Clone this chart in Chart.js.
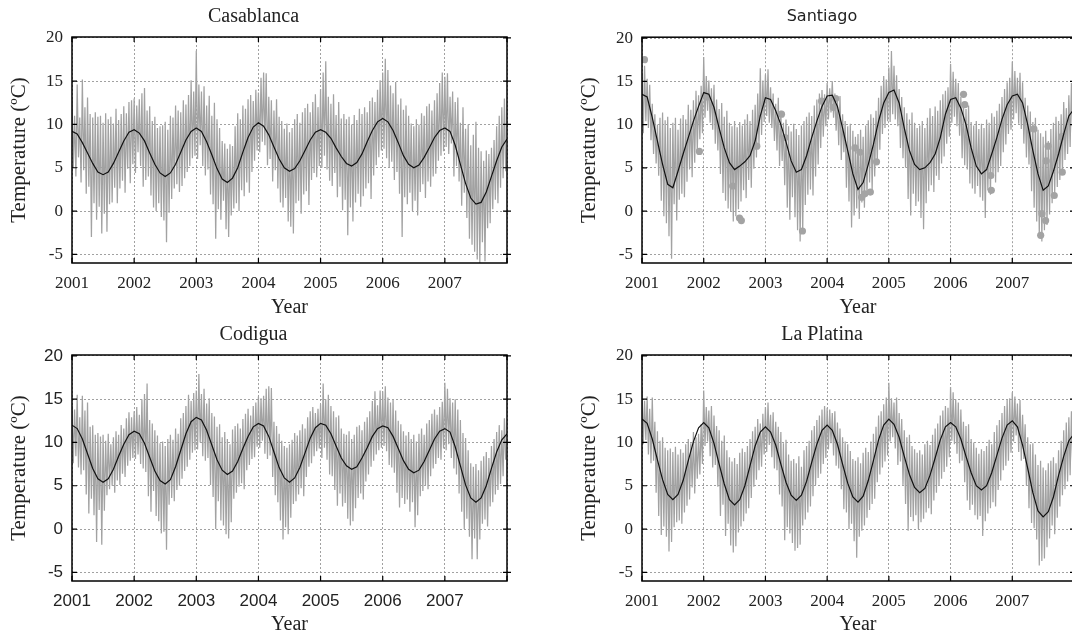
<!DOCTYPE html>
<html>
<head>
<meta charset="utf-8">
<script src="https://cdn.jsdelivr.net/npm/chart.js@4.4.1/dist/chart.umd.min.js"></script>
<style>
  html, body { margin: 0; padding: 0; background: #fff; overflow: hidden; }
  body { width: 1072px; height: 637px; position: relative; }
  canvas { position: absolute; }
</style>
</head>
<body>
<canvas id="casablanca" width="578" height="320" style="left:0px;top:0px"></canvas>
<canvas id="santiago" width="576" height="320" style="left:570px;top:0px"></canvas>
<canvas id="codigua" width="578" height="319" style="left:0px;top:318px"></canvas>
<canvas id="laplatina" width="576" height="319" style="left:570px;top:318px"></canvas>
<script>
// ticks
var yearTicks = [2001, 2002, 2003, 2004, 2005, 2006, 2007, 2008];
var tempTicks = [-5, 0, 5, 10, 15, 20];

// grey series: highs and lows for every half month (24 per year, 2001-2007)
var casaHi = [
  12.9, 11.0, 14.6, 10.8, 15.2, 12.0, 13.1, 11.2, 10.8, 11.4, 10.9, 11.0, 10.2, 11.3, 10.6, 10.9, 10.1, 11.8, 10.5, 11.2, 12.1, 11.3, 12.6, 12.8,
  13.0, 12.2, 12.9, 13.6, 14.2, 11.6, 12.1, 10.4, 10.9, 9.6, 9.8, 9.9, 10.3, 9.4, 11.0, 10.8, 12.2, 11.6, 11.4, 12.8, 12.3, 13.4, 15.1, 13.8,
  18.5, 14.6, 13.8, 14.4, 12.2, 13.3, 11.0, 12.5, 10.6, 9.6, 8.1, 7.8, 7.2, 7.7, 7.5, 9.8, 11.3, 10.6, 12.2, 11.8, 12.9, 13.4, 12.7, 14.0,
  13.7, 15.4, 16.0, 15.9, 13.2, 12.8, 11.6, 12.9, 10.9, 10.4, 9.5, 10.1, 9.1, 9.6, 10.6, 11.2, 10.2, 11.4, 11.9, 12.4, 11.4, 12.6, 13.5, 12.0,
  14.1, 16.0, 17.3, 13.2, 12.4, 13.5, 11.1, 12.6, 10.7, 11.2, 10.6, 10.9, 10.0, 11.1, 10.5, 11.8, 11.2, 12.0, 11.4, 12.7, 13.1, 12.6, 14.0, 15.1,
  16.0, 17.6, 16.3, 14.5, 13.6, 14.9, 12.3, 13.0, 11.7, 12.2, 11.0, 10.1, 9.8, 10.6, 10.0, 11.3, 11.0, 12.1, 12.4, 11.6, 12.8, 13.6, 14.8, 16.0,
  15.5, 15.9, 13.2, 13.8, 12.6, 13.1, 10.2, 12.0, 9.5, 10.0, 7.6, 8.8, 10.3, 7.3, 6.9, 5.8, 7.0, 6.6, 7.3, 8.2, 9.8, 11.0, 12.0, 13.0
];
var casaLo = [
  5.1, 4.0, 6.2, 3.3, 4.7, 2.0, 2.8, -3.0, 0.9, -1.0, 0.5, -2.6, -0.3, -2.4, 0.8, 1.0, 2.7, 0.9, 2.6, 3.5, 2.1, 4.9, 3.2, 5.4,
  4.4, 6.8, 5.2, 2.8, 3.6, 4.0, 1.8, 0.4, 0.0, 0.9, -0.7, -1.1, -3.6, -0.2, 1.4, 2.6, 3.1, 2.2, 2.9, 3.8, 4.5, 5.2, 6.1, 6.4,
  6.0, 7.6, 5.2, 4.1, 4.8, 1.9, 0.8, -3.2, 0.2, -1.0, 1.2, -2.1, -3.0, -0.5, 0.3, 0.9, 0.0, 2.4, 1.7, 3.3, 2.1, 4.5, 5.8, 7.0,
  6.8, 8.0, 7.6, 5.3, 6.0, 3.4, 4.7, 2.6, 1.0, 0.4, 1.5, -1.2, -1.8, -2.6, 0.9, 1.2, -0.3, 1.9, 2.3, 0.7, 3.6, 4.4, 3.9, 5.2,
  5.0, 6.4, 4.8, 3.5, 2.9, 4.4, 1.6, 2.8, 0.1, 1.3, -2.8, 0.4, -1.2, 1.0, 2.0, 0.5, 1.7, 2.6, 3.2, 1.4, 4.1, 5.3, 6.2, 7.0,
  7.2, 6.1, 5.0, 5.7, 3.6, 4.5, 2.0, -3.0, 1.6, 0.8, 2.1, 0.0, 1.2, -0.5, 2.2, 3.1, 1.5, 3.4, 2.8, 4.0, 4.3, 5.8, 6.4, 6.9,
  7.4, 6.6, 7.8, 4.0, 5.2, 3.4, 0.6, 2.1, -0.8, -3.2, -3.9, -4.7, -5.6, -6.0, -3.6, -5.8, -2.0, -1.4, 0.2, 1.3, 0.9, 2.7, 3.8, 4.6
];
// black fitted curve, one value per month from Jan 2001 to Jan 2008
var casaFit = [
  9.2, 8.9, 7.9, 6.7, 5.5, 4.5, 4.2, 4.5, 5.5, 6.8, 8.1, 9.1,
  9.4, 9.0, 8.1, 6.7, 5.4, 4.4, 4.0, 4.4, 5.4, 6.8, 8.2, 9.2,
  9.6, 9.2, 8.0, 6.5, 4.9, 3.7, 3.3, 3.8, 5.0, 6.8, 8.5, 9.7,
  10.2, 9.8, 8.8, 7.4, 6.0, 5.0, 4.6, 4.9, 5.8, 7.0, 8.2, 9.1,
  9.4, 9.1, 8.4, 7.3, 6.3, 5.5, 5.2, 5.6, 6.6, 8.0, 9.3, 10.3,
  10.7, 10.3, 9.3, 7.9, 6.4, 5.4, 5.0, 5.3, 6.2, 7.3, 8.5, 9.3,
  9.6, 9.2, 7.6, 5.4, 3.2, 1.5, 0.8, 1.0, 2.2, 4.0, 5.8, 7.4,
  8.3
];

var santHi = [
  15.8, 16.8, 15.3, 14.6, 12.4, 11.2, 10.0, 10.8, 11.4, 10.5, 10.9, 9.6, 10.2, 10.8, 9.4, 10.7, 11.1, 10.6, 12.3, 11.7, 12.8, 13.9, 13.4, 14.5,
  17.8, 15.6, 15.1, 14.2, 14.6, 12.9, 11.8, 12.5, 10.9, 11.6, 10.2, 9.8, 10.4, 9.7, 10.3, 9.9, 10.6, 11.2, 10.4, 11.7, 12.3, 13.6, 16.5, 15.1,
  15.8, 16.4, 14.3, 13.6, 12.4, 13.1, 11.6, 10.2, 10.6, 9.8, 9.2, 10.1, 9.5, 8.8, 9.9, 10.4, 10.9, 11.4, 11.0, 12.2, 12.9, 13.6, 14.0, 13.5,
  14.8, 14.2, 15.0, 13.6, 12.9, 13.3, 11.2, 10.4, 9.8, 10.1, 9.3, 8.6, 8.9, 9.4, 8.6, 9.9, 10.5, 11.2, 10.8, 11.6, 13.1, 14.5, 15.6, 15.2,
  16.6, 18.5, 16.8, 15.7, 14.1, 13.2, 12.0, 11.3, 10.6, 11.4, 10.2, 9.6, 9.9, 10.4, 9.6, 10.8, 11.9, 11.0, 12.1, 11.6, 12.8, 13.5, 13.9, 14.3,
  17.0, 16.1, 15.3, 14.8, 13.2, 12.6, 11.8, 12.2, 10.3, 9.9, 10.4, 9.5, 10.1, 9.6, 10.6, 10.2, 11.3, 10.9, 11.6, 12.4, 13.2, 14.1, 14.9, 15.4,
  17.3, 16.2, 15.4, 16.0, 14.9, 13.1, 12.2, 11.5, 10.3, 10.8, 9.4, 9.0, 8.6, 9.3, 8.1, 9.5, 10.2, 10.9, 10.4, 11.2, 12.6, 11.9, 13.4, 14.8
];
var santLo = [
  9.0, 10.4, 9.6, 8.2, 6.6, 5.5, 4.1, 1.2, -0.6, -1.4, -2.9, -5.5, 0.8, -1.1, 1.3, 2.0, 1.6, 3.4, 4.8, 3.9, 5.6, 7.0, 8.3, 9.0,
  10.8, 11.6, 10.2, 9.4, 7.8, 7.0, 4.3, 2.1, 1.2, 0.3, 0.0, -1.2, -0.6, 0.2, 1.1, 2.4, 1.5, 3.6, 2.7, 4.9, 6.2, 7.5, 8.8, 10.3,
  11.0, 10.2, 9.6, 8.1, 7.0, 5.2, 5.8, 3.0, 0.4, -1.0, 1.6, -0.7, -2.2, -3.5, -2.6, 0.7, 1.9, 2.5, 1.8, 4.0, 5.4, 7.3, 8.6, 9.8,
  10.6, 11.4, 10.8, 9.3, 7.6, 5.9, 6.8, 2.7, 1.1, -1.9, -0.5, 0.3, -0.9, 1.0, 0.4, 1.8, 3.3, 2.4, 4.0, 5.7, 7.1, 8.9, 9.6, 10.4,
  10.3, 11.2, 10.6, 9.8, 7.3, 6.1, 5.0, 1.4, -0.5, 2.0, 0.6, 1.1, -0.8, -2.1, 0.9, 2.3, 3.0, 2.2, 4.1, 3.6, 5.5, 6.3, 7.8, 8.6,
  10.2, 10.9, 9.8, 8.7, 6.1, 5.3, 4.8, 3.2, 2.6, 2.0, 2.9, 1.6, 1.2, -0.8, 2.4, 1.9, 3.8, 3.3, 4.5, 5.2, 6.8, 7.7, 8.9, 9.4,
  10.6, 11.3, 10.1, 9.5, 7.8, 6.2, 5.4, 2.3, 0.4, -1.2, -2.8, -3.5, -2.2, -1.6, -0.4, 0.9, 2.1, 2.8, 3.6, 4.4, 5.9, 6.6, 7.4, 8.7
];
var santFit = [
  13.5, 13.2, 10.8, 8.1, 5.4, 3.1, 2.7, 4.6, 6.6, 8.5, 10.4, 12.1,
  13.7, 13.5, 12.0, 9.6, 7.3, 5.6, 4.8, 5.2, 5.7, 6.4, 8.1, 11.0,
  13.1, 12.9, 11.6, 10.0, 8.0, 5.8, 4.5, 4.8, 6.4, 8.5, 10.4, 12.1,
  13.3, 13.4, 12.1, 9.6, 7.0, 4.3, 2.5, 3.3, 5.4, 7.7, 10.4, 12.5,
  13.7, 14.0, 12.5, 9.6, 7.0, 5.4, 4.8, 5.0, 5.6, 6.6, 8.5, 11.2,
  12.9, 13.1, 11.9, 10.0, 7.3, 5.2, 4.3, 4.8, 6.6, 8.5, 10.6, 12.3,
  13.3, 13.5, 12.5, 10.0, 7.0, 4.3, 2.4, 2.9, 4.6, 6.6, 8.9, 11.0,
  11.8
];
// separate observations drawn as grey dots (Santiago only)
var santDotYear = [2001.04, 2001.93, 2002.05, 2002.47, 2002.58, 2002.61, 2002.86, 2003.26, 2003.32, 2003.6, 2003.91, 2004.1, 2004.14, 2004.45, 2004.53, 2004.56,
  2004.61, 2004.7, 2004.8, 2006.21, 2006.23, 2006.65, 2006.66, 2007.35, 2007.46, 2007.48, 2007.54, 2007.55, 2007.58, 2007.68, 2007.8, 2007.81];
var santDotTemp = [17.5, 6.9, 13.2, 2.9, -0.8, -1.1, 7.5, 11.2, 8.5, -2.3, 12.7, 12.0, 13.0, 7.3, 6.8, 1.6,
  2.0, 2.2, 5.7, 13.5, 12.3, 4.1, 2.4, 9.5, -2.8, -0.3, -1.1, 5.8, 7.5, 1.8, 8.6, 4.5];

var codiHi = [
  14.2, 13.8, 15.5, 12.9, 15.4, 13.7, 14.6, 11.8, 12.0, 10.9, 11.1, 10.7, 10.9, 10.2, 11.0, 9.8, 10.6, 11.3, 10.9, 12.0, 11.6, 12.8, 13.5, 12.9,
  13.6, 14.1, 13.2, 15.0, 15.6, 16.8, 12.6, 12.2, 11.4, 10.8, 9.9, 10.1, 9.6, 10.4, 10.9, 10.3, 11.6, 11.0, 12.8, 13.4, 14.2, 15.5, 14.8, 15.7,
  16.0, 17.9, 15.6, 16.2, 14.5, 15.1, 13.4, 13.0, 11.8, 12.1, 10.6, 11.2, 10.4, 9.8, 11.5, 11.9, 12.2, 11.6, 12.7, 13.3, 13.9, 13.1, 14.2, 14.6,
  15.3, 15.1, 15.4, 16.2, 16.5, 16.3, 12.4, 11.9, 11.0, 10.2, 9.6, 9.4, 9.8, 10.3, 11.1, 10.8, 11.4, 12.1, 11.6, 12.9, 13.6, 14.1, 13.4, 13.9,
  14.4, 16.8, 15.0, 15.5, 14.2, 13.6, 12.9, 13.1, 11.6, 11.0, 10.9, 11.3, 10.4, 10.9, 11.8, 12.0, 11.4, 12.4, 12.9, 13.6, 14.8, 15.9, 14.3, 16.0,
  15.9, 16.5, 15.2, 14.6, 14.9, 13.7, 12.5, 12.1, 11.3, 10.8, 11.2, 10.4, 10.9, 10.1, 11.0, 11.6, 10.9, 12.2, 12.6, 13.3, 13.8, 13.2, 14.1, 14.7,
  16.9, 16.2, 15.1, 14.6, 15.0, 13.8, 12.6, 11.1, 10.5, 9.1, 7.6, 7.2, 7.5, 6.8, 7.9, 8.4, 8.9, 8.2, 9.6, 10.4, 11.2, 12.0, 11.4, 12.8
];
var codiLo = [
  7.6, 8.4, 7.1, 6.3, 6.8, 4.0, 1.8, 3.5, 1.6, -1.5, 2.2, -1.8, 2.1, 3.9, 4.6, 5.0, 4.2, 5.6, 5.1, 6.4, 6.0, 7.3, 7.9, 8.2,
  8.1, 8.6, 7.5, 7.0, 6.6, 3.8, 2.0, 4.4, 1.5, 0.9, -0.5, -0.3, -2.4, 2.8, 3.6, 3.2, 4.5, 5.0, 5.8, 6.7, 7.2, 8.0, 8.8, 9.1,
  9.2, 10.0, 8.4, 7.9, 8.2, 5.1, 3.7, 0.0, 3.2, 1.0, 0.4, -0.6, -1.1, 0.8, 3.5, 4.2, 4.9, 5.3, 4.6, 6.8, 7.4, 8.1, 8.3, 9.5,
  9.4, 10.2, 8.7, 8.1, 8.5, 6.0, 3.9, 3.1, 1.0, -1.2, 0.2, -0.6, 1.3, 2.9, 3.2, 4.0, 4.7, 3.8, 6.0, 7.2, 7.6, 8.4, 9.0, 9.3,
  8.2, 9.4, 8.0, 6.3, 6.1, 4.5, 2.7, 4.1, 2.6, 3.0, 1.2, 0.4, 0.9, 2.4, 3.6, 4.1, 3.4, 5.5, 6.3, 7.2, 7.9, 8.6, 9.1, 9.4,
  9.6, 9.0, 7.4, 7.1, 6.5, 4.2, 2.5, 3.6, 2.9, 3.4, 2.0, 3.1, 0.2, 1.6, 3.8, 4.4, 5.0, 4.6, 6.1, 7.0, 7.5, 8.2, 8.0, 9.3,
  9.1, 9.8, 8.2, 7.0, 6.3, 4.1, 2.0, 0.0, 1.2, -0.9, -3.5, -1.1, -3.5, -1.2, 0.6, 1.1, 0.3, 2.6, 3.1, 4.0, 4.5, 5.2, 6.1, 8.0
];
var codiFit = [
  12.0, 11.6, 10.4, 8.7, 7.0, 5.8, 5.4, 5.8, 6.9, 8.4, 9.8, 10.9,
  11.3, 11.0, 9.9, 8.3, 6.7, 5.6, 5.2, 5.7, 7.2, 9.1, 11.0, 12.4,
  12.9, 12.6, 11.4, 9.7, 8.0, 6.8, 6.3, 6.7, 7.8, 9.3, 10.7, 11.8,
  12.2, 11.9, 10.7, 8.9, 7.1, 5.9, 5.4, 5.9, 7.1, 8.8, 10.5, 11.7,
  12.2, 12.0, 11.0, 9.6, 8.2, 7.3, 6.9, 7.2, 8.2, 9.4, 10.7, 11.6,
  11.9, 11.7, 10.7, 9.3, 7.9, 6.9, 6.5, 6.8, 7.8, 9.1, 10.4, 11.3,
  11.6, 11.2, 9.5, 7.3, 5.1, 3.6, 3.1, 3.6, 5.0, 7.0, 8.9, 10.3,
  11.0
];

var platHi = [
  16.2, 14.8, 15.3, 13.9, 15.2, 12.4, 11.3, 10.2, 10.6, 9.4, 9.1, 9.3, 8.9, 9.5, 8.6, 9.2, 8.8, 9.8, 10.4, 9.9, 11.2, 10.6, 11.0, 12.1,
  16.0, 14.1, 13.7, 14.2, 13.1, 11.9, 11.4, 10.2, 10.8, 9.1, 8.3, 7.8, 8.2, 7.5, 8.8, 9.3, 8.9, 9.6, 10.4, 11.3, 11.8, 12.7, 12.2, 13.3,
  14.1, 14.6, 13.2, 13.5, 12.4, 11.8, 11.2, 9.9, 10.3, 8.6, 7.9, 8.1, 7.6, 8.4, 7.2, 9.1, 9.6, 10.2, 11.4, 11.9, 12.6, 13.1, 13.8, 14.2,
  14.0, 13.8, 13.4, 13.6, 12.3, 11.6, 10.6, 10.1, 9.8, 9.0, 8.1, 7.9, 8.3, 7.6, 8.8, 9.4, 8.9, 10.1, 11.0, 11.8, 13.1, 13.6, 14.4, 15.2,
  16.9, 15.1, 14.6, 15.2, 13.4, 12.7, 11.4, 10.6, 10.9, 9.6, 9.2, 8.8, 9.1, 8.6, 9.8, 10.2, 9.7, 10.9, 11.6, 12.2, 13.1, 13.7, 14.2, 14.0,
  16.4, 15.8, 15.0, 14.6, 13.8, 12.4, 11.9, 12.1, 10.4, 10.0, 9.4, 8.7, 9.2, 9.0, 9.6, 10.3, 9.8, 11.2, 12.0, 12.6, 13.4, 14.2, 14.9, 15.1,
  15.8, 15.3, 14.5, 14.9, 13.2, 12.1, 10.6, 9.8, 9.9, 8.6, 7.4, 7.9, 7.1, 6.8, 7.6, 7.9, 8.3, 7.6, 9.1, 10.2, 11.4, 12.3, 12.9, 13.6
];
var platLo = [
  9.8, 10.3, 8.6, 7.6, 7.9, 4.2, 1.5, -0.7, 0.3, -0.9, -2.6, -1.5, 0.2, 0.8, 1.0, 0.6, 1.9, 2.7, 3.4, 4.8, 4.1, 5.8, 6.3, 7.5,
  9.6, 10.1, 8.4, 7.1, 7.4, 4.9, 1.5, 2.8, -0.8, 0.6, -1.9, -2.7, -2.0, -0.4, 0.3, 0.9, 1.8, 2.4, 3.6, 4.9, 5.7, 6.8, 7.2, 8.6,
  8.9, 9.7, 8.3, 7.0, 6.8, 4.0, 2.6, -1.3, 0.2, -0.5, -1.6, -2.5, -2.2, -1.8, 0.4, 1.1, 1.9, 2.6, 3.8, 5.1, 5.9, 6.4, 7.5, 8.2,
  9.2, 9.9, 8.5, 7.3, 7.0, 4.6, 2.3, 1.9, 0.0, 0.6, -1.4, -3.3, -0.9, -0.2, 0.4, 1.3, 2.2, 2.9, 3.5, 5.4, 6.3, 7.1, 7.8, 8.5,
  10.1, 10.6, 9.3, 7.4, 7.8, 5.1, 2.9, -0.2, 1.4, 0.9, 1.6, 0.0, 0.8, 1.2, 1.9, 2.4, 1.7, 3.3, 4.2, 5.0, 5.8, 6.6, 7.2, 8.3,
  10.2, 9.8, 8.7, 7.6, 7.9, 5.4, 3.3, 2.2, 2.8, 1.6, 1.1, 1.5, -0.8, 0.9, 1.8, 2.4, 3.1, 2.6, 4.5, 5.6, 6.8, 7.3, 7.9, 8.8,
  10.1, 10.8, 8.9, 7.9, 8.1, 5.0, 2.4, 0.7, 0.1, -1.2, -4.2, -3.7, -3.4, -2.1, -1.1, 0.4, -0.6, 1.3, 2.6, 3.9, 4.6, 5.5, 6.2, 7.4
];
var platFit = [
  12.7, 12.2, 10.4, 8.0, 5.7, 4.0, 3.4, 4.0, 5.6, 7.9, 10.1, 11.7,
  12.3, 11.7, 9.9, 7.5, 5.2, 3.4, 2.8, 3.4, 5.0, 7.3, 9.6, 11.2,
  11.8, 11.2, 9.7, 7.5, 5.4, 3.9, 3.3, 3.9, 5.5, 7.7, 9.8, 11.4,
  12.0, 11.4, 9.8, 7.5, 5.3, 3.7, 3.1, 3.8, 5.6, 7.9, 10.3, 12.0,
  12.7, 12.1, 10.6, 8.4, 6.3, 4.8, 4.2, 4.7, 6.2, 8.2, 10.3, 11.8,
  12.3, 11.8, 10.4, 8.4, 6.5, 5.0, 4.5, 5.0, 6.5, 8.5, 10.5, 12.0,
  12.5, 11.8, 9.7, 7.0, 4.2, 2.1, 1.4, 2.0, 3.7, 6.2, 8.4, 10.2,
  11.0
];

var SERIF = "'Liberation Serif', 'Times New Roman', serif";
var SANS = "'Liberation Sans', Arial, sans-serif";

// half-month spikes: high at the start, low in the middle of each half month
function spikes(hi, lo) {
  var pts = [];
  for (var i = 0; i < hi.length; i++) {
    pts.push({x: 2001 + i / 24, y: hi[i]});
    pts.push({x: 2001 + i / 24 + 1 / 48, y: lo[i]});
  }
  return pts;
}
function monthly(v) {
  return v.map(function(y, i) { return {x: 2001 + i / 12, y: y}; });
}

// box round the plot with the small inner tick marks
var frame = {
  id: 'frame',
  afterDatasetsDraw: function(chart) {
    var a = chart.chartArea, c = chart.ctx, sx = chart.scales.x, sy = chart.scales.y;
    c.save();
    c.strokeStyle = '#000';
    c.lineWidth = 1.5;
    c.strokeRect(a.left, a.top, a.right - a.left, a.bottom - a.top);
    c.lineWidth = 1.2;
    c.beginPath();
    yearTicks.forEach(function(v) {
      var px = sx.getPixelForValue(v);
      c.moveTo(px, a.top); c.lineTo(px, a.top + 5);
      c.moveTo(px, a.bottom); c.lineTo(px, a.bottom - 5);
    });
    tempTicks.forEach(function(v) {
      var py = sy.getPixelForValue(v);
      c.moveTo(a.left, py); c.lineTo(a.left + 5, py);
      c.moveTo(a.right - 4, py); c.lineTo(a.right + 4, py);
    });
    c.stroke();
    c.restore();
  }
};

function makeChart(id, name, titleFont, titlePad, tickFamily, padRight, xHeight, grey, fit, dots) {
  var datasets = [
    {data: monthly(fit), borderColor: '#111', borderWidth: 1.2, pointRadius: 0, tension: 0}
  ];
  if (dots) {
    datasets.push({data: dots, showLine: false, pointRadius: 3.6, pointBackgroundColor: '#a3a3a3', pointBorderWidth: 0});
  }
  datasets.push({data: grey, borderColor: '#a2a2a2', borderWidth: 1.25, pointRadius: 0, tension: 0});

  new Chart(document.getElementById(id), {
    type: 'line',
    data: {datasets: datasets},
    options: {
      responsive: false,
      animation: false,
      events: [],
      layout: {padding: {left: 0, right: padRight, top: 0, bottom: 0}},
      plugins: {
        legend: {display: false},
        tooltip: {enabled: false},
        title: {display: true, text: name, font: titleFont, color: '#222', padding: titlePad}
      },
      scales: {
        x: {
          type: 'linear', min: 2001, max: 2008,
          afterBuildTicks: function(s) { s.ticks = yearTicks.map(function(v) { return {value: v}; }); },
          afterFit: function(s) { s.height = xHeight; },
          ticks: {
            callback: function(v) { return v < 2008 ? String(v) : ''; },
            font: {family: tickFamily, size: 17}, color: '#222', padding: 10, maxRotation: 0, autoSkip: false
          },
          grid: {color: '#8a8a8a', lineWidth: 0.8, drawTicks: false},
          border: {display: false, dash: [2, 2]},
          title: {display: true, text: 'Year', font: {family: SERIF, size: 20}, color: '#222', padding: {top: 0, bottom: 0}}
        },
        y: {
          min: -6, max: 20.1,
          afterBuildTicks: function(s) { s.ticks = tempTicks.map(function(v) { return {value: v}; }); },
          afterFit: function(s) { s.width = 72; },
          ticks: {
            callback: function(v) { return String(v); },
            font: {family: tickFamily, size: 17}, color: '#222', padding: 9
          },
          grid: {color: '#8a8a8a', lineWidth: 0.8, drawTicks: false},
          border: {display: false, dash: [2, 2]},
          title: {display: true, text: 'Temperature (ºC)', font: {family: SERIF, size: 21}, color: '#222', padding: {top: 7, bottom: 0}}
        }
      }
    },
    plugins: [frame]
  });
}

var serifTitle = {family: SERIF, size: 20, weight: 'normal'};
var serifPad = {top: 5, bottom: 8};

var santDots = santDotYear.map(function(x, i) { return {x: x, y: santDotTemp[i]}; });

makeChart('casablanca', 'Casablanca', serifTitle, serifPad, SERIF, 71, 57, spikes(casaHi, casaLo), casaFit, null);
makeChart('santiago', 'Santiago', {family: "'DejaVu Sans', sans-serif", size: 16, weight: 'normal'}, {top: 7, bottom: 11},
  SERIF, 72, 57, spikes(santHi, santLo), santFit, santDots);
makeChart('codigua', 'Codigua', serifTitle, serifPad, SANS, 71, 56, spikes(codiHi, codiLo), codiFit, null);
makeChart('laplatina', 'La Platina', serifTitle, serifPad, SERIF, 72, 56, spikes(platHi, platLo), platFit, null);
</script>
</body>
</html>
